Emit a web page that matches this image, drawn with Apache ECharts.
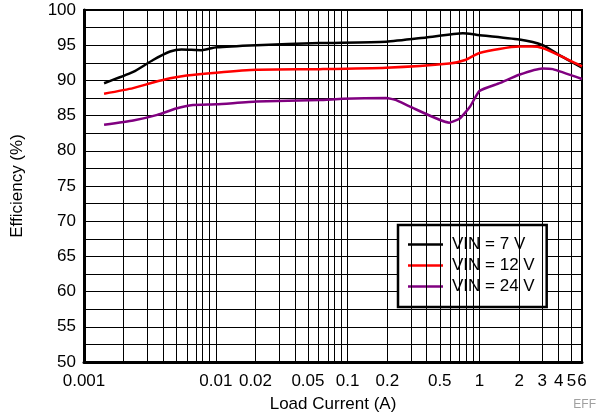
<!DOCTYPE html>
<html>
<head>
<meta charset="utf-8">
<script src="https://cdn.jsdelivr.net/npm/echarts@6/dist/echarts.min.js"></script>
<style>html,body{margin:0;padding:0;background:#fff;}#c{width:610px;height:419px;}</style>
</head>
<body>
<div id="c"></div>
<script>
// Load current (A) and efficiency (%) for each input voltage
var current7 = [0.00142,0.00236,0.00334,0.0045,0.0055,0.0078,0.0101,0.0203,0.0614,0.196,0.394,0.75,0.944,2.01,3.02,4.04,6];
var eff7     = [89.6,91.2,92.9,94.1,94.4,94.3,94.7,95.0,95.3,95.5,96.1,96.7,96.5,95.8,95.0,93.6,91.8];
var current12 = [0.00142,0.00236,0.00334,0.0045,0.006,0.0101,0.0203,0.0614,0.196,0.59,0.78,1.0,2.0,2.5,3.0,4.0,6];
var eff12     = [88.1,88.9,89.7,90.3,90.7,91.1,91.5,91.6,91.8,92.4,92.9,93.9,94.8,94.8,94.6,93.6,92.0];
var current24 = [0.00142,0.00236,0.0036,0.005,0.0067,0.0101,0.0203,0.0614,0.092,0.196,0.234,0.295,0.59,0.71,0.85,1.0,1.42,2.0,3.0,3.6,6];
var eff24     = [83.7,84.3,85.1,86.0,86.5,86.6,87.0,87.2,87.4,87.5,87.2,86.3,84.0,84.6,86.3,88.5,89.6,90.8,91.7,91.6,90.2];
var seriesNames = ['VIN = 7 V','VIN = 12 V','VIN = 24 V'];
var seriesColors = ['#000000','#ff0000','#800080'];
var xTickLabels = [0.001,0.01,0.02,0.05,0.1,0.2,0.5,1,2,3,4,5,6];
var xGridValues = [0.001,0.002,0.003,0.004,0.005,0.006,0.007,0.008,0.009,0.01,0.02,0.03,0.04,0.05,0.06,0.07,0.08,0.09,0.1,0.2,0.3,0.4,0.5,0.6,0.7,0.8,0.9,1,2,3,4,5,6];
var xMin = 0.001, xMax = 6;
var yMin = 50, yMax = 100, yStep = 5;

function pairs(xs, ys){ return xs.map(function(x,i){ return [Math.log10(x), ys[i]]; }); }
var FONT = 'Liberation Sans, Arial, Helvetica, sans-serif';
var LEG_ICON = 'path://M0 0H70V5H0Z';

var chart = echarts.init(document.getElementById('c'), null, {renderer:'canvas'});
var lineW = 2.5;
chart.setOption({
  animation: false,
  backgroundColor: '#fff',
  title: {
    text: 'EFF', right: 9, bottom: 3,
    textStyle: {color: '#a0a0a0', fontSize: 12, fontWeight: 'normal', fontFamily: FONT}
  },
  grid: {left: 84, right: 28, top: 10, bottom: 57, show: true, borderColor: '#000', borderWidth: 2, containLabel: false},
  legend: {
    orient: 'vertical', left: 398, top: 225,
    data: seriesNames.map(function(n){ return {name: n, icon: LEG_ICON}; }),
    backgroundColor: '#fff', borderColor: '#000', borderWidth: 2.5, borderRadius: 0,
    padding: [11, 12, 12, 10],
    itemWidth: 35, itemHeight: 17, itemGap: 4,
    textStyle: {fontSize: 17, color: '#000', fontFamily: FONT, padding: [0,0,0,4]}
  },
  xAxis: {
    type: 'value',
    min: Math.log10(xMin), max: Math.log10(xMax),
    name: 'Load Current (A)', nameLocation: 'middle', nameGap: 34,
    nameTextStyle: {fontSize: 17, color: '#000', fontFamily: FONT},
    axisLine: {show: true, onZero: false, lineStyle: {color: '#000', width: 3}},
    axisTick: {show: false, customValues: xTickLabels.map(function(v){return Math.log10(v);})},
    splitLine: {show: false},
    axisLabel: {
      customValues: xTickLabels.map(function(v){return Math.log10(v);}),
      formatter: function(v){ return String(Number(Math.pow(10, v).toPrecision(6))); },
      fontSize: 17, color: '#000', fontFamily: FONT, margin: 11, showMinLabel: true, showMaxLabel: true
    }
  },
  yAxis: {
    type: 'value', min: yMin, max: yMax, interval: yStep,
    name: 'Efficiency (%)', nameLocation: 'middle', nameGap: 58,
    nameTextStyle: {fontSize: 17, color: '#000', fontFamily: FONT},
    axisLine: {show: true, onZero: false, lineStyle: {color: '#000', width: 3}},
    axisTick: {show: false},
    minorTick: {show: false, splitNumber: 2},
    splitLine: {show: true, lineStyle: {color: '#000', width: 1}},
    minorSplitLine: {show: true, lineStyle: {color: '#000', width: 1}},
    axisLabel: {fontSize: 17, color: '#000', fontFamily: FONT, margin: 8}
  },
  series: [
    {
      name: 'grid', type: 'line', data: [], z: 1, silent: true,
      markLine: {
        silent: true, symbol: ['none','none'], label: {show: false},
        lineStyle: {color: '#000', width: 1, type: 'solid'},
        emphasis: {disabled: true},
        data: xGridValues.map(function(v){ return {xAxis: Math.log10(v)}; })
      }
    },
    {name: seriesNames[0], type: 'line', data: pairs(current7, eff7), symbol: 'none', smooth: 0.2, z: 5, lineStyle: {color: seriesColors[0], width: lineW}, itemStyle: {color: seriesColors[0]}},
    {name: seriesNames[1], type: 'line', data: pairs(current12, eff12), symbol: 'none', smooth: 0.2, z: 5, lineStyle: {color: seriesColors[1], width: lineW}, itemStyle: {color: seriesColors[1]}},
    {name: seriesNames[2], type: 'line', data: pairs(current24, eff24), symbol: 'none', smooth: 0.15, z: 5, lineStyle: {color: seriesColors[2], width: lineW}, itemStyle: {color: seriesColors[2]}}
  ]
});
</script>
</body>
</html>
